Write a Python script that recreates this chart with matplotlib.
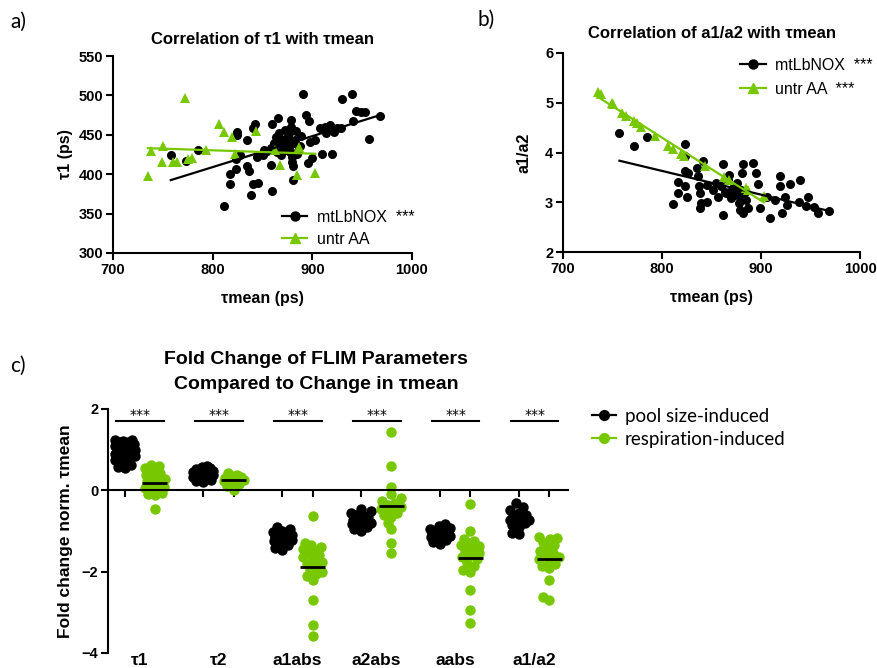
import numpy as np
import matplotlib
matplotlib.use('Agg')
import matplotlib.pyplot as plt
from matplotlib.lines import Line2D
import matplotlib.transforms as mtransforms

GREEN = '#77c800'
plt.rcParams['font.family'] = 'DejaVu Sans'
ARIAL = 'Liberation Sans'

# ---- panel a: tau1 vs tau mean
a_black_tm = [758, 773, 785, 811, 817, 817, 823, 823, 824, 824, 827, 834, 834, 836, 838, 840, 845,
              842, 840, 844, 851, 852, 859, 859, 860, 860, 864, 866, 867, 869, 870, 871, 873, 874,
              875, 877, 877, 879, 879, 880, 880, 881, 881, 883, 882, 885, 891, 894, 897, 896, 889,
              898, 903, 900, 908, 910, 920, 913, 918, 925, 914, 930, 940, 941, 944, 949, 953, 957,
              968, 922, 929, 872, 876, 878, 870, 868, 884, 886, 862, 865, 878, 888, 855]
a_black_t1 = [424, 417, 431, 360, 388, 400, 406, 419, 454, 450, 424, 443, 410, 404, 374, 388, 389,
              464, 458, 422, 424, 431, 433, 412, 379, 464, 447, 471, 452, 424, 437, 443, 456, 431,
              445, 452, 435, 460, 469, 422, 416, 410, 393, 443, 439, 426, 502, 475, 467, 414, 448,
              441, 443, 421, 459, 426, 426, 460, 462, 458, 452, 496, 502, 467, 480, 479, 479, 445,
              474, 454, 459, 440, 448, 438, 430, 445, 455, 430, 440, 428, 428, 436, 430]
a_green_tm = [735, 738, 749, 750, 760, 764, 772, 775, 779, 793, 806, 811, 819, 822, 843, 863, 868,
              885, 887, 903]
a_green_t1 = [398, 429, 415, 436, 415, 416, 497, 419, 421, 431, 464, 454, 447, 426, 455, 431, 412,
              399, 435, 401]

# ---- panel b: a1/a2 vs tau mean
b_black_tm = [757, 772, 785, 811, 816, 816, 823, 823, 823, 823, 825, 826, 835, 836, 837, 838, 838,
              839, 845, 841, 845, 852, 855, 857, 860, 862, 862, 865, 867, 868, 870, 872, 874, 876,
              878, 879, 880, 881, 882, 884, 885, 887, 882, 892, 895, 897, 899, 906, 909, 914, 919,
              921, 924, 926, 929, 938, 939, 945, 947, 954, 958, 969, 919, 870, 875, 864, 880]
b_black_r = [4.40, 4.13, 4.32, 2.97, 3.40, 3.18, 4.17, 3.92, 3.62, 3.32, 3.11, 3.58, 3.68, 3.52,
             3.32, 3.18, 2.88, 2.98, 3.01, 3.82, 3.35, 3.25, 3.38, 3.11, 3.33, 2.75, 3.77, 3.18,
             3.45, 3.55, 3.08, 3.28, 3.15, 3.38, 2.98, 2.85, 3.11, 3.58, 2.78, 3.21, 3.05, 2.88,
             3.77, 3.78, 3.58, 3.37, 2.88, 3.11, 2.68, 3.05, 3.32, 2.78, 3.11, 2.94, 3.37, 3.01,
             3.45, 2.93, 3.11, 2.91, 2.78, 2.83, 3.52, 3.22, 3.30, 3.20, 3.25]
b_green_tm = a_green_tm
b_green_r = [5.22, 5.18, 5.00, 4.98, 4.80, 4.74, 4.63, 4.60, 4.52, 4.33, 4.14, 4.08, 3.97, 3.92,
             3.72, 3.50, 3.45, 3.28, 3.24, 3.12]

# ---- panel c: fold change of FLIM parameters
params = ['τ1', 'τ2', 'a1abs', 'a2abs', 'aabs', 'a1/a2']
pool = [
    [1.25, 1.24, 1.22, 1.2, 1.18, 1.15, 1.12, 1.08, 1.05, 1.02, 0.98, 0.95, 0.92, 0.9, 0.88, 0.85,
     0.8, 0.75, 0.7, 0.62, 0.57, 0.55],
    [0.6, 0.58, 0.55, 0.52, 0.5, 0.5, 0.48, 0.46, 0.44, 0.42, 0.4, 0.38, 0.36, 0.33, 0.3, 0.25,
     0.22, 0.2],
    [-0.9, -0.95, -1.0, -1.03, -1.06, -1.08, -1.1, -1.12, -1.14, -1.16, -1.18, -1.2, -1.22, -1.25,
     -1.3, -1.35, -1.42, -1.47],
    [-0.45, -0.5, -0.55, -0.6, -0.63, -0.66, -0.7, -0.72, -0.75, -0.78, -0.8, -0.83, -0.86, -0.9,
     -0.95, -1.0],
    [-0.83, -0.88, -0.92, -0.95, -0.98, -1.0, -1.02, -1.04, -1.06, -1.08, -1.1, -1.12, -1.15, -1.18,
     -1.22, -1.27, -1.32],
    [-0.32, -0.4, -0.48, -0.55, -0.6, -0.64, -0.68, -0.7, -0.72, -0.74, -0.76, -0.78, -0.8, -0.85,
     -0.9, -1.05, -1.08],
]
resp = [
    [0.62, 0.6, 0.55, 0.48, 0.42, 0.38, 0.32, 0.28, 0.22, 0.18, 0.12, 0.08, 0.05, 0.0, -0.03, -0.06,
     -0.1, -0.12, -0.45],
    [0.42, 0.38, 0.35, 0.33, 0.31, 0.3, 0.28, 0.27, 0.25, 0.22, 0.2, 0.15, 0.1, 0.02],
    [-0.62, -1.3, -1.35, -1.4, -1.45, -1.5, -1.55, -1.6, -1.65, -1.7, -1.75, -1.8, -1.85, -1.95,
     -2.0, -2.05, -2.1, -2.2, -2.7, -3.3, -3.57],
    [1.43, 0.6, 0.08, -0.1, -0.2, -0.25, -0.3, -0.35, -0.4, -0.45, -0.5, -0.55, -0.6, -0.65, -0.8,
     -0.95, -1.3, -1.55],
    [-0.33, -1.0, -1.2, -1.25, -1.3, -1.35, -1.38, -1.45, -1.5, -1.55, -1.6, -1.65, -1.7, -1.78,
     -1.85, -1.95, -2.0, -2.45, -2.95, -3.25],
    [-1.14, -1.16, -1.2, -1.28, -1.35, -1.42, -1.5, -1.55, -1.6, -1.65, -1.7, -1.75, -1.8, -1.85,
     -1.9, -2.2, -2.62, -2.69],
]
sig = ['***'] * 6


def style_axes(ax):
    for s in ['top', 'right']:
        ax.spines[s].set_visible(False)
    for s in ['left', 'bottom']:
        ax.spines[s].set_linewidth(1.5)
    ax.tick_params(width=1.5, length=5, labelsize=10.5, pad=2)
    for lab in ax.get_xticklabels() + ax.get_yticklabels():
        lab.set_fontweight('bold')
        lab.set_family(ARIAL)


def fit_line(ax, x, y, color):
    x = np.array(x, float)
    y = np.array(y, float)
    k, b = np.polyfit(x, y, 1)
    xs = np.array([x.min(), x.max()])
    ax.plot(xs, k * xs + b, color=color, lw=1.6, zorder=3)


def swarm(vals, d=7.0, maxw=10.0, sx=30.0, sy=40.7):
    # compact beeswarm, computed in pixels then returned in x data units
    ys = np.array(vals, float) * sy
    offs = np.zeros(len(ys))
    placed = []
    grid = np.arange(-maxw, maxw + 0.01, 0.5)
    grid = grid[np.argsort(np.abs(grid), kind='stable')]
    for i in np.argsort(ys):
        y = ys[i]
        best, best_d = 0.0, -1.0
        for c in grid:
            md = min([np.hypot(c - px, y - py) for px, py in placed] or [1e9])
            if md >= d:
                best = c
                break
            if md > best_d + 0.5:
                best, best_d = c, md
        offs[i] = best
        placed.append((best, y))
    return offs / sx


W, H = 877, 668
fig = plt.figure(figsize=(W / 100, H / 100), dpi=100)


def px_axes(l, t, r, b):
    return fig.add_axes([l / W, 1 - b / H, (r - l) / W, (b - t) / H])


lab_font = dict(fontsize=11.5, fontweight='bold', family=ARIAL)
ttl_font = dict(fontsize=12, fontweight='bold', family=ARIAL)
leg_prop = {'family': ARIAL, 'size': 11.5}

# ---------- a
ax = px_axes(113, 56, 412, 253)
ax.plot(a_black_tm, a_black_t1, 'o', color='black', ms=6.5, mew=0, zorder=2)
ax.plot(a_green_tm, a_green_t1, '^', color=GREEN, ms=6.5, mew=0, zorder=2)
fit_line(ax, a_black_tm, a_black_t1, 'black')
fit_line(ax, a_green_tm, a_green_t1, GREEN)
ax.set_xlim(700, 1000)
ax.set_ylim(300, 550)
ax.set_xticks([700, 800, 900, 1000])
ax.set_yticks([300, 350, 400, 450, 500, 550])
style_axes(ax)
ax.set_xlabel('τmean (ps)', labelpad=10, **lab_font)
ax.set_ylabel('τ1 (ps)', labelpad=4, **lab_font)
ax.set_title('Correlation of τ1 with τmean', pad=9, **ttl_font)
hs = [Line2D([], [], color='black', marker='o', ms=6.5, lw=1.6),
      Line2D([], [], color=GREEN, marker='^', ms=6.5, lw=1.6)]
ax.legend(hs, ['mtLbNOX  ***', 'untr AA'], loc='upper left', bbox_to_anchor=(0.565, 0.22),
          frameon=False, prop=leg_prop,
          handlelength=1.6, handletextpad=0.6, borderpad=0, labelspacing=0.45, borderaxespad=0)

# ---------- b
ax = px_axes(563, 53, 860, 252)
ax.plot(b_black_tm, b_black_r, 'o', color='black', ms=6.5, mew=0, zorder=2)
ax.plot(b_green_tm, b_green_r, '^', color=GREEN, ms=6.5, mew=0, zorder=2)
fit_line(ax, b_black_tm, b_black_r, 'black')
fit_line(ax, b_green_tm, b_green_r, GREEN)
ax.set_xlim(700, 1000)
ax.set_ylim(2, 6)
ax.set_xticks([700, 800, 900, 1000])
ax.set_yticks([2, 3, 4, 5, 6])
style_axes(ax)
ax.set_xlabel('τmean (ps)', labelpad=10, **lab_font)
ax.set_ylabel('a1/a2', labelpad=10, **lab_font)
ax.set_title('Correlation of a1/a2 with τmean', pad=11, **ttl_font)
ax.legend(hs, ['mtLbNOX  ***', 'untr AA  ***'], loc='upper left', bbox_to_anchor=(0.596, 0.975),
          frameon=False, prop=leg_prop,
          handlelength=1.6, handletextpad=0.6, borderpad=0, labelspacing=0.55, borderaxespad=0)

# ---------- c
ax = px_axes(108, 409, 568, 653)
gap = 2.62
pos_b = np.arange(len(params)) * gap
pos_g = pos_b + 1
for i in range(len(params)):
    for pos, vals, col in [(pos_b[i], pool[i], 'black'), (pos_g[i], resp[i], GREEN)]:
        xo = swarm(vals)
        ax.plot(pos + xo, vals, 'o', color=col, ms=7.5, mew=0, zorder=2)
        ax.hlines(np.mean(vals), pos - 0.42, pos + 0.42, color='black', lw=2, zorder=4)
    ax.plot([pos_b[i] - 0.28, pos_g[i] + 0.3], [1.71, 1.71], color='black', lw=1.5,
            clip_on=False)
    ax.text((pos_b[i] + pos_g[i]) / 2 + 0.02, 1.86, sig[i], ha='center', va='center',
            fontsize=10, clip_on=False)
ax.set_xlim(-0.55, pos_g[-1] + 0.62)
ax.set_ylim(-4, 2)
ax.set_yticks([-4, -2, 0, 2])
ax.set_xticks(np.sort(np.concatenate([pos_b, pos_g])))
ax.set_xticklabels([])
ax.spines['bottom'].set_position(('data', 0))
style_axes(ax)
tr = mtransforms.blended_transform_factory(ax.transData, ax.transAxes)
for i, p in enumerate(params):
    ax.text((pos_b[i] + pos_g[i]) / 2, 0.0, p, transform=tr, ha='center', va='top',
            fontsize=12.5, fontweight='bold', family=ARIAL, clip_on=False)
ax.set_ylabel('Fold change norm. τmean', labelpad=6, fontsize=12.5, fontweight='bold',
              family=ARIAL)
fig.text(316 / W, 1 - 372 / H, 'Fold Change of FLIM Parameters\nCompared to Change in τmean',
         ha='center', va='center', fontsize=14, fontweight='bold', family=ARIAL,
         linespacing=1.55)
hc = [Line2D([], [], color='black', marker='o', ms=7, lw=1.6),
      Line2D([], [], color=GREEN, marker='o', ms=7, lw=1.6)]
fig.legend(hc, ['pool size-induced', 'respiration-induced'], loc='upper left',
           bbox_to_anchor=(592 / W, 1 - 408 / H), frameon=False,
           prop={'family': 'Lato', 'size': 13.5}, handlelength=1.3, handletextpad=0.45,
           borderpad=0, labelspacing=0.3, borderaxespad=0)

# panel letters
for s, x, y in [('a)', 10, 22), ('b)', 477, 20), ('c)', 10, 366)]:
    fig.text(x / W, 1 - y / H, s, fontsize=15, family='Lato', ha='left', va='center')

fig.savefig('out.png', dpi=100)
